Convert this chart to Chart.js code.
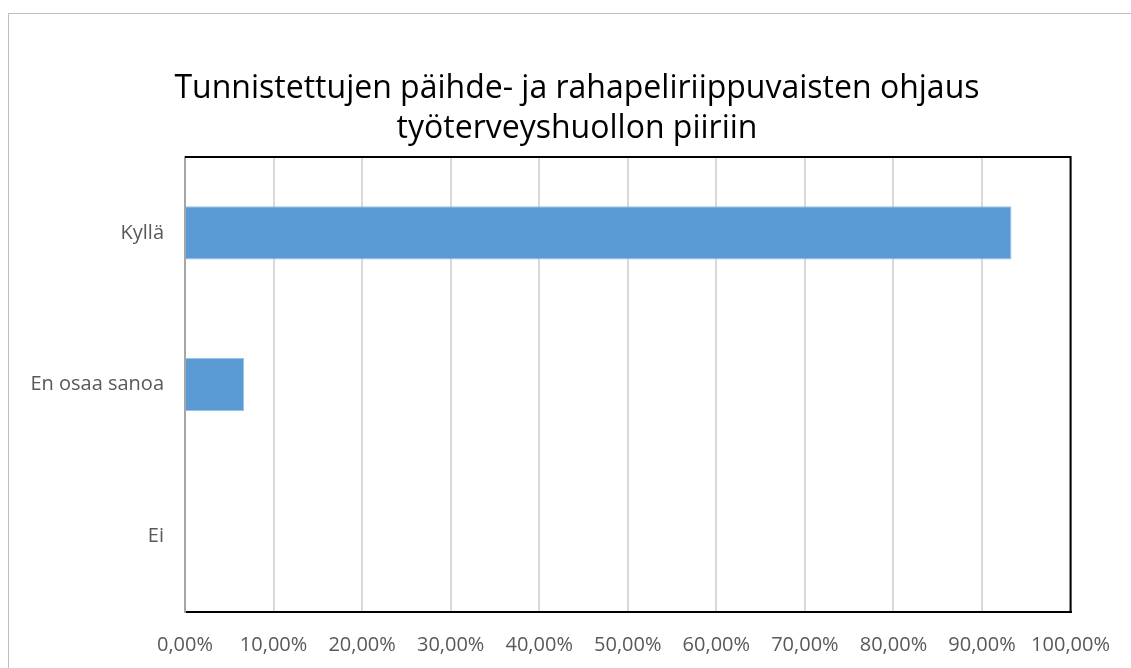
<!DOCTYPE html>
<html>
<head>
<meta charset="utf-8">
<script src="https://cdn.jsdelivr.net/npm/chart.js@4"></script>
<style>
  html, body { margin: 0; padding: 0; background: #fff; }
  #wrap { position: relative; width: 1131px; height: 668px; overflow: hidden; }
  #frame { position: absolute; left: 8px; top: 13px; width: 1140px; height: 700px; border: 1px solid #bfbfbf; box-sizing: border-box; }
  canvas { position: absolute; left: 0; top: 0; }
</style>
</head>
<body>
<div id="wrap">
  <div id="frame"></div>
  <canvas id="chart" width="1131" height="668"></canvas>
</div>
<script>
const titleLines = ['Tunnistettujen päihde- ja rahapeliriippuvaisten ohjaus', 'työterveyshuollon piiriin'];
const categories = ['Kyllä', 'En osaa sanoa', 'Ei'];
const values = [93.33, 6.67, 0];
const tickLabels = ['0,00%', '10,00%', '20,00%', '30,00%', '40,00%', '50,00%', '60,00%', '70,00%', '80,00%', '90,00%', '100,00%'];

// title + top/right frame of the plot area
const extras = {
  id: 'extras',
  afterDraw(chart) {
    const { ctx, chartArea } = chart;
    ctx.save();
    ctx.strokeStyle = '#000';
    ctx.lineWidth = 2;
    ctx.beginPath();
    ctx.moveTo(chartArea.left, chartArea.top);
    ctx.lineTo(chartArea.right, chartArea.top);
    ctx.lineTo(chartArea.right, chartArea.bottom);
    ctx.stroke();
    ctx.fillStyle = '#000';
    ctx.font = '32px "Open Sans"';
    ctx.textAlign = 'center';
    ctx.textBaseline = 'middle';
    ctx.fillText(titleLines[0], 577, 89);
    ctx.fillText(titleLines[1], 577, 129);
    ctx.restore();
  }
};

new Chart(document.getElementById('chart'), {
  type: 'bar',
  data: {
    labels: categories,
    datasets: [{
      data: values,
      backgroundColor: '#5b9bd5',
      borderColor: '#9cc3e6',
      borderWidth: 1,
      categoryPercentage: 1,
      barPercentage: 0.35
    }]
  },
  options: {
    indexAxis: 'y',
    responsive: false,
    animation: false,
    layout: { padding: { top: 157, right: 60, left: 0, bottom: 0 } },
    plugins: { legend: { display: false }, tooltip: { enabled: false } },
    scales: {
      x: {
        min: 0,
        max: 100,
        afterFit(scale) { scale.height = 56; },
        ticks: {
          stepSize: 10,
          color: '#595959',
          font: { family: 'Open Sans', size: 20 },
          padding: 21,
          maxRotation: 0,
          autoSkip: false,
          callback: (v, i) => tickLabels[i]
        },
        grid: { color: '#d9d9d9', lineWidth: 2, drawTicks: false },
        border: { color: '#000', width: 2 }
      },
      y: {
        afterFit(scale) { scale.width = 185; },
        ticks: {
          color: '#595959',
          font: { family: 'Open Sans', size: 20 },
          padding: 21
        },
        grid: { display: false, drawTicks: false },
        border: { color: '#a6a6a6', width: 2 }
      }
    }
  },
  plugins: [extras]
});
</script>
</body>
</html>
